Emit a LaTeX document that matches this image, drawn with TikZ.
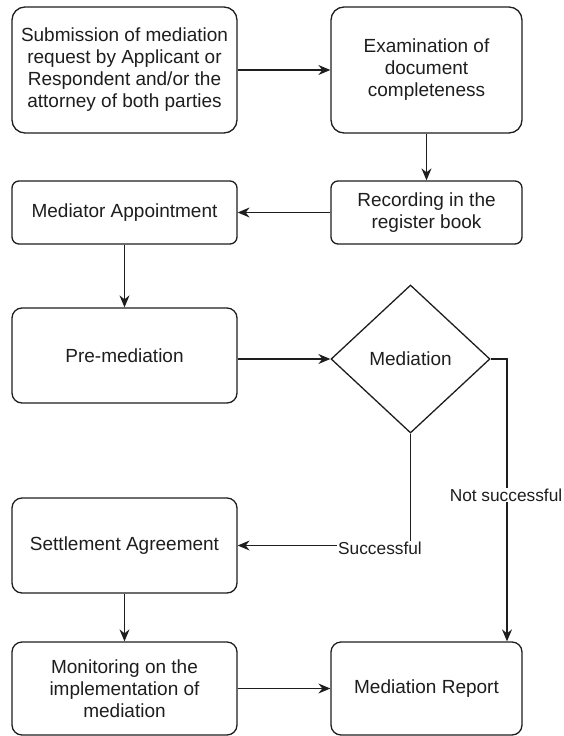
\documentclass[tikz,border=0pt]{standalone}
\usepackage{fontspec}
\setmainfont{Liberation Sans}
\usetikzlibrary{shapes.geometric,arrows.meta}
\definecolor{ink}{HTML}{1E1E1E}
\begin{document}
\begin{tikzpicture}[x=1pt,y=-1pt,
  every node/.style={text=ink},
  box/.style={draw=ink, line width=1.3pt, fill=white, inner sep=2pt, align=center,
    font=\fontsize{19}{22}\selectfont},
  dia/.style={draw=ink, line width=1.3pt, diamond, inner sep=0pt, align=center,
    font=\fontsize{19}{22}\selectfont},
  lab/.style={fill=white, inner sep=1pt, font=\fontsize{17.3}{20}\selectfont},
  conn/.style={draw=ink, line width=1.3pt, -{Stealth[length=12pt,width=10pt,inset=4pt]}},
]
\useasboundingbox (0,0) rectangle (563,736);
\node[box, minimum width=225pt, minimum height=126pt, rounded corners=13pt] (sub) at (124.5,70)
  {Submission of mediation\\request by Applicant or\\Respondent and/or the\\attorney of both parties};
\node[box, minimum width=191pt, minimum height=126pt, rounded corners=13pt] (exa) at (426.5,70)
  {Examination of\\document\\completeness};
\node[box, minimum width=191pt, minimum height=63pt, rounded corners=7pt] (rec) at (426.5,212.5)
  {Recording in the\\register book};
\node[box, minimum width=225pt, minimum height=63pt, rounded corners=7pt] (app) at (124.5,212.5)
  {Mediator Appointment};
\node[box, minimum width=225pt, minimum height=95pt, rounded corners=10pt] (pre) at (124.5,355.5)
  {Pre-mediation};
\node[dia, minimum width=159pt, minimum height=148pt] (med) at (410.5,359) {Mediation};
\node[box, minimum width=225pt, minimum height=95pt, rounded corners=10pt] (set) at (124.5,545.5)
  {Settlement Agreement};
\node[box, minimum width=225pt, minimum height=93pt, rounded corners=10pt] (mon) at (124.5,688.5)
  {Monitoring on the\\implementation of\\mediation};
\node[box, minimum width=191pt, minimum height=93pt, rounded corners=10pt] (rep) at (426.5,688.5)
  {Mediation Report};
\coordinate (nsx) at (507,359);
\path[conn] (sub.east) -- (exa.west);
\path[conn] (exa.south) -- (rec.north);
\path[conn] (rec.west) -- (app.east);
\path[conn] (app.south) -- (pre.north);
\path[conn] (pre.east |- med.west) -- (med.west);
\path[conn] (med.south) |- (set.east);
\path[conn] (med.east) -- (nsx) -- (nsx |- rep.north);
\path[conn] (set.south) -- (mon.north);
\path[conn] (mon.east) -- (rep.west);
\node[lab] (lsucc) at (380,548) {Successful};
\node[lab] (lnot) at (506,495) {Not successful};
\end{tikzpicture}
\end{document}
